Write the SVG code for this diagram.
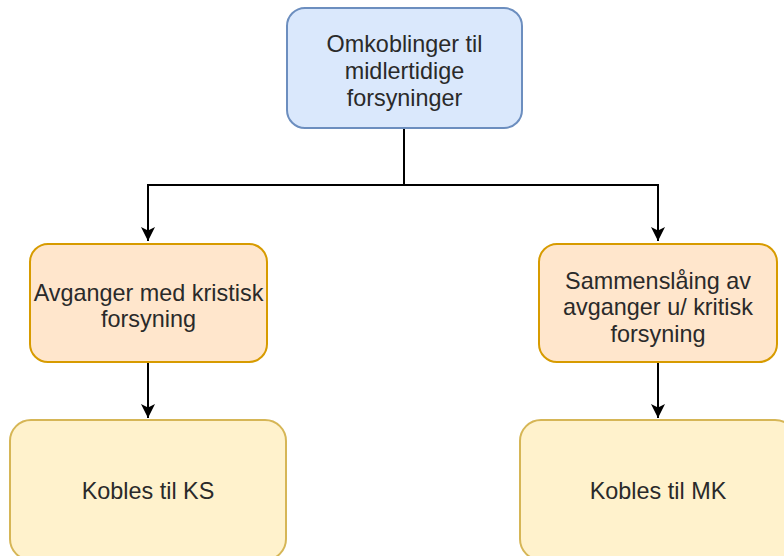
<svg xmlns="http://www.w3.org/2000/svg" width="784" height="556" viewBox="0 0 784 556">
  <defs>
    <marker id="arrow" viewBox="0 0 10 10" refX="10" refY="5" markerUnits="userSpaceOnUse" markerWidth="14" markerHeight="15" orient="auto">
      <path d="M0,0 L10,5 L0,10 L2.5,5 Z" fill="#000"/>
    </marker>
  </defs>
  <style>
    .box { stroke-width: 2; }
    .blue { fill: #dae8fc; stroke: #6c8ebf; }
    .orange { fill: #ffe6cc; stroke: #d79b00; }
    .yellow { fill: #fff2cc; stroke: #d6b656; }
    .label { font-family: "Liberation Sans", Arial, sans-serif; font-size: 23.4px; fill: #2a2a2a; text-anchor: middle; }
    .edge { fill: none; stroke: #000; stroke-width: 2; }
  </style>

  <g id="connectors">
    <path class="edge" d="M404,128 V185 H148 V241" marker-end="url(#arrow)"/>
    <path class="edge" d="M404,185 H658 V241" marker-end="url(#arrow)"/>
    <path class="edge" d="M148,362 V418" marker-end="url(#arrow)"/>
    <path class="edge" d="M658,362 V418" marker-end="url(#arrow)"/>
  </g>

  <g id="root">
    <rect class="box blue" x="287" y="8" width="235" height="120" rx="18"/>
    <text class="label"><tspan x="404.5" y="51.5">Omkoblinger til</tspan><tspan x="404.5" y="78.5">midlertidige</tspan><tspan x="404.5" y="105.5">forsyninger</tspan></text>
  </g>

  <g id="critical">
    <rect class="box orange" x="30" y="244" width="237" height="118" rx="18"/>
    <text class="label"><tspan x="148.5" y="300.5">Avganger med kristisk</tspan><tspan x="148.5" y="327">forsyning</tspan></text>
  </g>

  <g id="merge">
    <rect class="box orange" x="539" y="244" width="238" height="118" rx="18"/>
    <text class="label"><tspan x="658" y="288.5">Sammenslåing av</tspan><tspan x="658" y="315">avganger u/ kritisk</tspan><tspan x="658" y="341.5">forsyning</tspan></text>
  </g>

  <g id="ks">
    <rect class="box yellow" x="10" y="420" width="276" height="140" rx="21"/>
    <text class="label" x="148" y="498.5">Kobles til KS</text>
  </g>

  <g id="mk">
    <rect class="box yellow" x="520" y="420" width="276" height="140" rx="21"/>
    <text class="label" x="658" y="498.5">Kobles til MK</text>
  </g>
</svg>
